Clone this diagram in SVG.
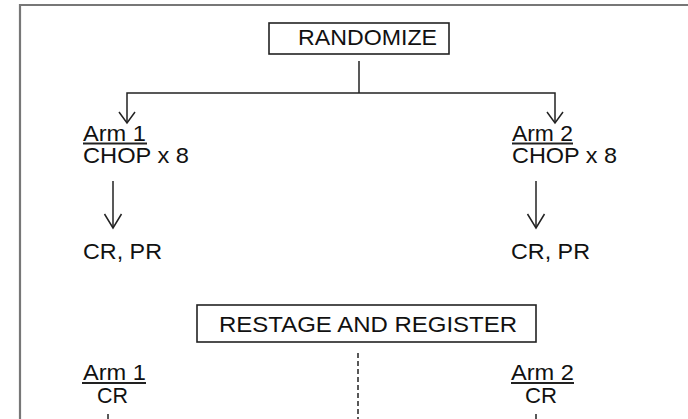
<svg xmlns="http://www.w3.org/2000/svg" width="688" height="419" viewBox="0 0 688 419">
<defs>
<style>
.t{font-family:"Liberation Sans",Arial,sans-serif;font-size:22px;fill:#111}
.box{fill:#fff;stroke:#222;stroke-width:1.6}
.ln{fill:none;stroke:#222;stroke-width:1.5}
.ul{stroke:#222;stroke-width:2}
.frame{fill:none;stroke:#777;stroke-width:2.2}
</style>
</defs>
<rect width="688" height="419" fill="#fff"/>
<path class="frame" d="M20,419 V5 H688"/>
<g id="randomize">
<rect class="box" x="269" y="23" width="180" height="31"/>
<text class="t" x="298" y="45" textLength="139" lengthAdjust="spacingAndGlyphs">RANDOMIZE</text>
</g>
<g id="arm1-chop">
<text class="t" x="83" y="141" textLength="63" lengthAdjust="spacingAndGlyphs">Arm 1</text>
<line class="ul" x1="83" y1="143.5" x2="147" y2="143.5"/>
<text class="t" x="83" y="163" textLength="106" lengthAdjust="spacingAndGlyphs">CHOP x 8</text>
</g>
<g id="arm2-chop">
<text class="t" x="512" y="141" textLength="61" lengthAdjust="spacingAndGlyphs">Arm 2</text>
<line class="ul" x1="512" y1="143.5" x2="573" y2="143.5"/>
<text class="t" x="512" y="163" textLength="105" lengthAdjust="spacingAndGlyphs">CHOP x 8</text>
</g>
<g id="crpr1">
<text class="t" x="83" y="259" textLength="79" lengthAdjust="spacingAndGlyphs">CR, PR</text>
</g>
<g id="crpr2">
<text class="t" x="511" y="259" textLength="79" lengthAdjust="spacingAndGlyphs">CR, PR</text>
</g>
<g id="restage">
<rect class="box" x="197" y="305" width="339" height="37"/>
<text class="t" x="219" y="332" textLength="298" lengthAdjust="spacingAndGlyphs">RESTAGE AND REGISTER</text>
</g>
<g id="arm1-cr">
<text class="t" x="83" y="380" textLength="63" lengthAdjust="spacingAndGlyphs">Arm 1</text>
<line class="ul" x1="82" y1="383" x2="146" y2="383"/>
<text class="t" x="97" y="403" textLength="31" lengthAdjust="spacingAndGlyphs">CR</text>
</g>
<g id="arm2-cr">
<text class="t" x="511" y="380" textLength="63" lengthAdjust="spacingAndGlyphs">Arm 2</text>
<line class="ul" x1="511" y1="383" x2="574" y2="383"/>
<text class="t" x="525" y="403" textLength="32" lengthAdjust="spacingAndGlyphs">CR</text>
</g>
<g id="connectors">
<line class="ln" x1="359" y1="61" x2="359" y2="93"/>
<path class="ln" d="M127,123 V93 H555 V123"/>
<path d="M119,112 L127,123 L135,112" class="ln"/>
<path d="M547,112 L555,123 L563,112" class="ln"/>
<line class="ln" x1="113" y1="181" x2="113" y2="228"/>
<path d="M104.5,214 L113,228 L121.5,214" class="ln"/>
<line class="ln" x1="536" y1="181" x2="536" y2="228"/>
<path d="M527.5,214 L536,228 L544.5,214" class="ln"/>
<line class="ln" x1="358" y1="353" x2="358" y2="419" stroke-dasharray="5,3"/>
<line class="ln" x1="108" y1="414" x2="108" y2="419"/>
<line class="ln" x1="536" y1="414" x2="536" y2="419"/>
</g>
</svg>
